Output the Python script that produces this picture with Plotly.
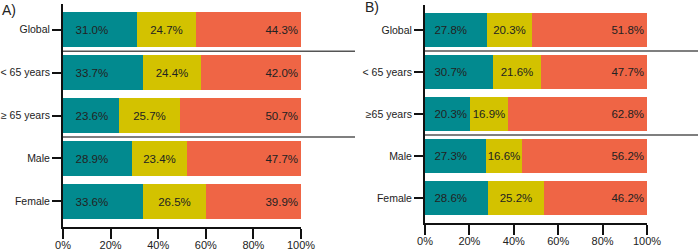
import plotly.graph_objects as go

cats_a = ["Global", "< 65 years", "\u2265 65 years", "Male", "Female"]
cats_b = ["Global", "< 65 years", "\u226565 years", "Male", "Female"]

a_teal = [31.0, 33.7, 23.6, 28.9, 33.6]
a_yellow = [24.7, 24.4, 25.7, 23.4, 26.5]
a_red = [44.3, 42.0, 50.7, 47.7, 39.9]

b_teal = [27.8, 30.7, 20.3, 27.3, 28.6]
b_yellow = [20.3, 21.6, 16.9, 16.6, 25.2]
b_red = [51.8, 47.7, 62.8, 56.2, 46.2]

p_a = ["0.070", "0.189"]
p_b = ["0.006", "0.022"]
p_pos_a = [1.58, 3.53]
p_pos_b = [1.5, 3.54]

x_ticks = [0, 20, 40, 60, 80, 100]
x_tick_labels = ["0%", "20%", "40%", "60%", "80%", "100%"]

TEAL = "#028a8f"
YELLOW = "#d3c200"
RED = "#ef6545"
TXT = "#222222"
FONT = "Liberation Sans, Arial, sans-serif"

fig = go.Figure()

def add_panel(cats, teal, yellow, red, xa, ya, pad):
    specs = [
        (teal, TEAL, "start", pad + "%{x:.1f}%"),
        (yellow, YELLOW, "middle", "%{x:.1f}%"),
        (red, RED, "end", "%{x:.1f}%"),
    ]
    for vals, col, anchor, tmpl in specs:
        fig.add_trace(go.Bar(
            x=vals, y=cats, orientation="h",
            marker=dict(color=col, line=dict(width=0)),
            width=0.82,
            texttemplate=tmpl, textposition="inside",
            insidetextanchor=anchor, textangle=0,
            constraintext="none",
            insidetextfont=dict(family=FONT, size=11.5, color=TXT),
            xaxis=xa, yaxis=ya, showlegend=False, hoverinfo="skip",
        ))

add_panel(cats_a, a_teal, a_yellow, a_red, "x", "y", "\u00a0\u00a0\u00a0")
add_panel(cats_b, b_teal, b_yellow, b_red, "x2", "y2", "\u00a0\u00a0")

axis_common = dict(
    showline=True, linecolor="#111111", linewidth=2,
    ticks="outside", tickcolor="#111111", tickwidth=2,
    showgrid=False, zeroline=False, automargin=False,
)
xfont = dict(family=FONT, size=11, color=TXT)
yfont = dict(family=FONT, size=10.5, color=TXT)

fig.update_layout(
    width=698, height=250,
    margin=dict(l=0, r=0, t=0, b=0),
    paper_bgcolor="white", plot_bgcolor="white",
    barmode="stack", bargap=0,
    xaxis=dict(domain=[63/698, 301/698], range=[0, 100], tickvals=x_ticks,
               ticktext=x_tick_labels, ticklen=10, ticklabelstandoff=-3,
               tickfont=xfont, anchor="y", **axis_common),
    yaxis=dict(domain=[1-227/250, 1-4/250], range=[4.6, -0.6], type="category",
               categoryorder="array", categoryarray=cats_a, ticklen=9,
               tickfont=yfont, anchor="x", **axis_common),
    xaxis2=dict(domain=[425/698, 647/698], range=[0, 100], tickvals=x_ticks,
                ticktext=x_tick_labels, ticklen=10, ticklabelstandoff=-3,
                tickfont=xfont, anchor="y2", **axis_common),
    yaxis2=dict(domain=[1-223/250, 1-5/250], range=[4.6, -0.6], type="category",
                categoryorder="array", categoryarray=cats_b, ticklen=9,
                tickfont=yfont, anchor="x2", **axis_common),
)

# separator lines
for yv in [0.5, 2.5]:
    fig.add_shape(type="line", xref="paper", yref="y", x0=63/698, x1=355/698,
                  y0=yv, y1=yv, line=dict(color="#555555", width=1.5))
    fig.add_shape(type="line", xref="paper", yref="y2", x0=425/698, x1=1.0,
                  y0=yv, y1=yv, line=dict(color="#555555", width=1.5))

for pv, yp in zip(p_a, p_pos_a):
    fig.add_annotation(x=102.3, y=yp, xref="x", yref="y", xanchor="left",
                       yanchor="middle", showarrow=False,
                       text="<i>P</i>=" + pv,
                       font=dict(family=FONT, size=11.5, color=TXT))
for pv, yp in zip(p_b, p_pos_b):
    fig.add_annotation(x=101.5, y=yp, xref="x2", yref="y2", xanchor="left",
                       yanchor="middle", showarrow=False,
                       text="<i>P</i>=" + pv,
                       font=dict(family=FONT, size=11.5, color=TXT))

fig.add_annotation(x=0, y=1-10/250, xref="paper", yref="paper", xanchor="left",
                   yanchor="middle", showarrow=False, text="A)",
                   font=dict(family=FONT, size=14, color=TXT))
fig.add_annotation(x=363/698, y=1-7/250, xref="paper", yref="paper", xanchor="left",
                   yanchor="middle", showarrow=False, text="B)",
                   font=dict(family=FONT, size=14, color=TXT))

fig.write_html("out.html", config={"displayModeBar": False},
               post_script="document.body.style.margin='0';document.body.style.overflow='hidden';")
